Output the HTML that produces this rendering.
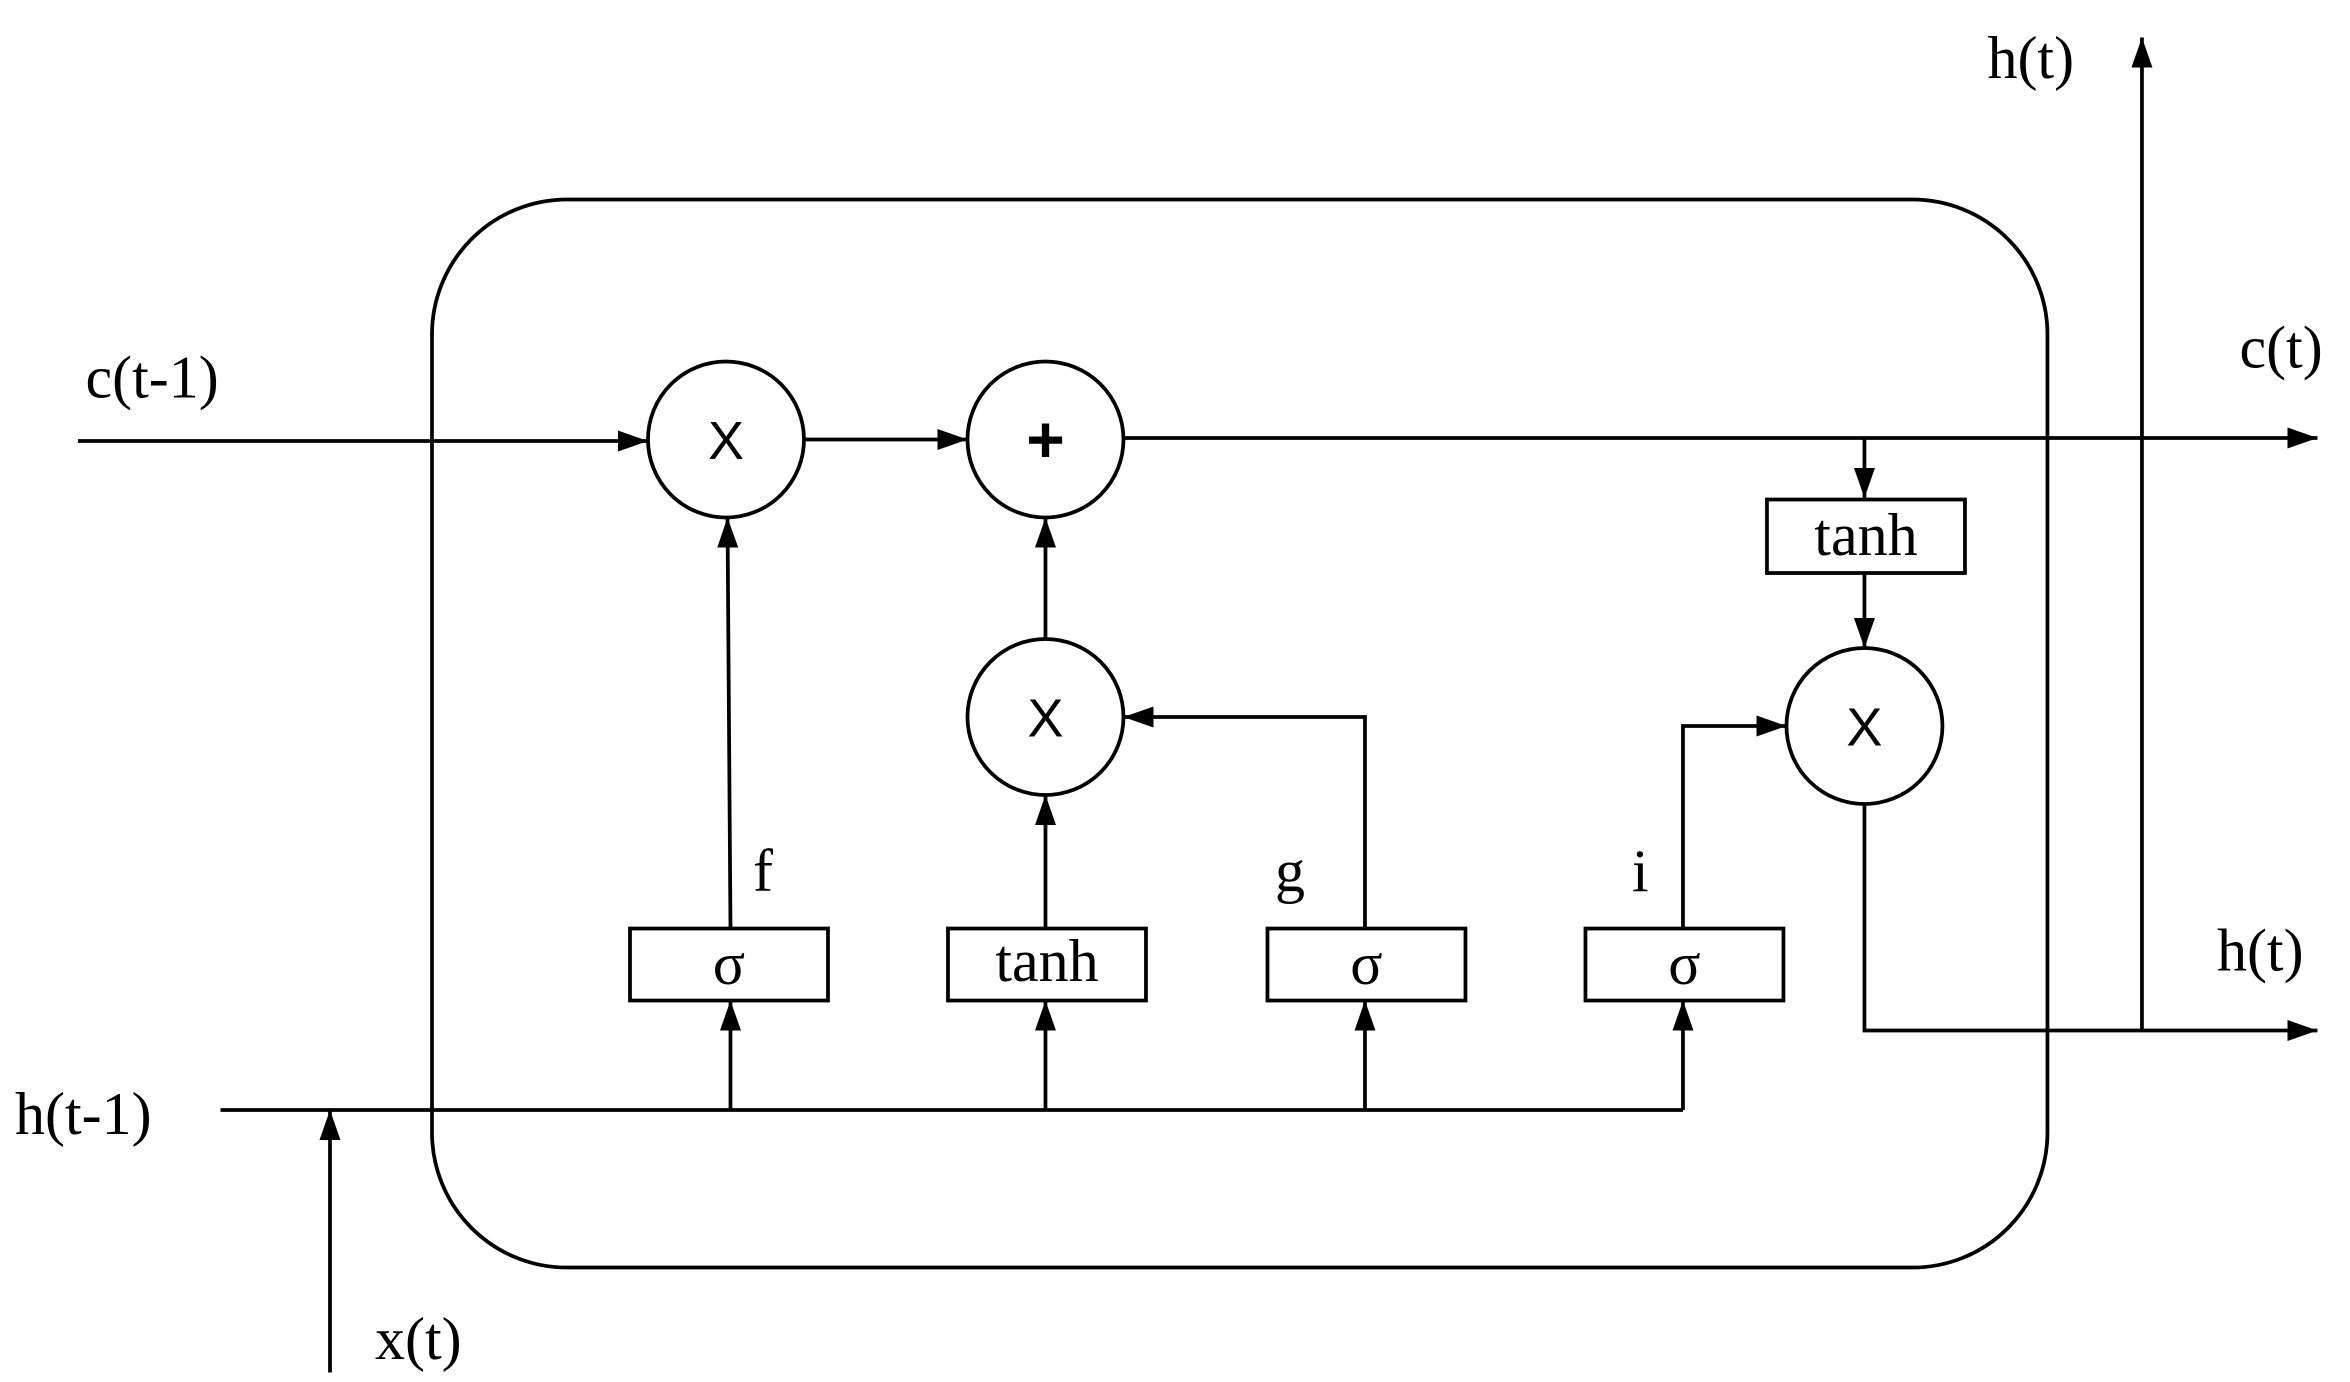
<!DOCTYPE html>
<html><head><meta charset="utf-8"><style>
html,body{margin:0;padding:0;background:#fff;}
svg{display:block;}
text{font-family:"Liberation Serif",serif;fill:#000;}
.s{font-family:"Liberation Sans",sans-serif;}
</style></head><body>
<svg width="2350" height="1382" viewBox="0 0 1566.7 921.3" preserveAspectRatio="none" xmlns="http://www.w3.org/2000/svg">
<defs><marker id="a" markerWidth="10" markerHeight="8" refX="10" refY="4" orient="auto" markerUnits="userSpaceOnUse" viewBox="0 0 10 8"><path d="M0,0 L10,4 L0,8 z" fill="#000"/></marker>
<marker id="b" markerWidth="20" markerHeight="14" refX="20" refY="7" orient="auto" markerUnits="userSpaceOnUse" viewBox="0 0 20 14"><path d="M0,0 L20,7 L0,14 z" fill="#000"/></marker></defs>
<g stroke="#000" stroke-width="2.5" fill="none">
<rect x="288" y="133" width="1077" height="712" rx="90" ry="90"/>
<line x1="52" y1="294" x2="432" y2="294" marker-end="url(#b)"/>
<circle cx="484" cy="293" r="52"/>
<circle cx="697" cy="293" r="52"/>
<circle cx="697" cy="478" r="52"/>
<circle cx="1243" cy="484" r="52"/>
<line x1="536" y1="293" x2="645" y2="293" marker-end="url(#b)"/>
<line x1="749" y1="292" x2="1545" y2="292" marker-end="url(#b)"/>
<line x1="1243" y1="292" x2="1243" y2="332" marker-end="url(#b)"/>
<rect x="1178" y="333" width="132" height="49"/>
<line x1="1243" y1="382" x2="1243" y2="432" marker-end="url(#b)"/>
<polyline points="1243,536 1243,687 1545,687" marker-end="url(#b)"/>
<line x1="1428" y1="687" x2="1428" y2="25" marker-end="url(#b)"/>
<line x1="697" y1="426" x2="697" y2="345" marker-end="url(#b)"/>
<rect x="420" y="619" width="132" height="48"/>
<rect x="632" y="619" width="132" height="48"/>
<rect x="845" y="619" width="132" height="48"/>
<rect x="1057" y="619" width="132" height="48"/>
<line x1="487" y1="619" x2="485" y2="345" marker-end="url(#b)"/>
<line x1="697" y1="619" x2="697" y2="530" marker-end="url(#b)"/>
<polyline points="910,619 910,478 749,478" marker-end="url(#b)"/>
<polyline points="1122,619 1122,484 1191,484" marker-end="url(#b)"/>
<line x1="147" y1="740" x2="1122" y2="740"/>
<line x1="487" y1="740" x2="487" y2="667" marker-end="url(#b)"/>
<line x1="697" y1="740" x2="697" y2="667" marker-end="url(#b)"/>
<line x1="910" y1="740" x2="910" y2="667" marker-end="url(#b)"/>
<line x1="1122" y1="740" x2="1122" y2="667" marker-end="url(#b)"/>
<line x1="220" y1="915" x2="220" y2="740" marker-end="url(#b)"/>
</g>
<g font-size="40">
<text x="57" y="265">c(t-1)</text>
<text x="1493" y="245">c(t)</text>
<text x="1325" y="52">h(t)</text>
<text x="1478" y="647">h(t)</text>
<text x="10" y="756">h(t-1)</text>
<text x="250" y="906">x(t)</text>
<text x="502" y="594">f</text>
<text x="850" y="594">g</text>
<text x="1088" y="594">i</text>
<text x="1244" y="370" text-anchor="middle">tanh</text>
<text x="486" y="656" text-anchor="middle">σ</text>
<text x="698" y="654" text-anchor="middle">tanh</text>
<text x="911" y="656" text-anchor="middle">σ</text>
<text x="1123" y="656" text-anchor="middle">σ</text>
</g>
<g font-size="36" class="s" text-anchor="middle">
<text class="s" x="484" y="306">X</text>
<text class="s" x="697" y="491">X</text>
<text class="s" x="1243" y="497">X</text>
<text class="s" x="697" y="308" font-size="44" font-weight="bold">+</text>
</g>
</svg>
</body></html>
